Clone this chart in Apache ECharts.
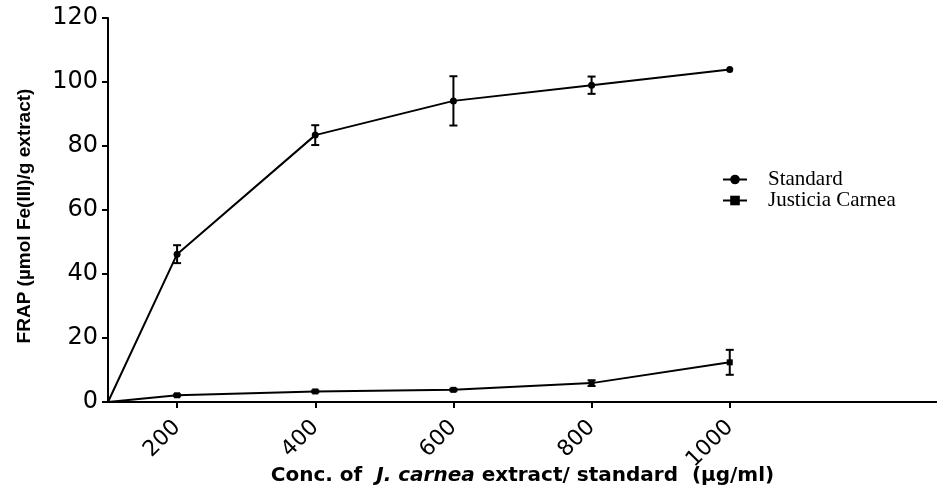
<!DOCTYPE html>
<html>
<head>
<meta charset="utf-8">
<script src="https://cdn.jsdelivr.net/npm/echarts@6/dist/echarts.min.js"></script>
<style>html,body{margin:0;padding:0;background:#fff}#c{width:937px;height:490px}</style>
</head>
<body>
<div id="c"></div>
<script>
const concentrations = [100, 200, 400, 600, 800, 1000];
const xTickLabels = [200, 400, 600, 800, 1000];
const standardMean = [0, 46.2, 83.4, 94.1, 99.0, 103.9];
const standardErr = [0, 2.8, 3.1, 7.7, 2.7, 0];
const justiciaMean = [0, 2.1, 3.3, 3.8, 5.9, 12.4];
const justiciaErr = [0, 0.3, 0.3, 0.3, 0.9, 3.9];
const seriesNames = ['Standard', 'Justicia Carnea'];

const chart = echarts.init(document.getElementById('c'));

function lineData(means) {
  return concentrations.map((x, i) => {
    const d = { value: [x, means[i]] };
    if (i === 0) d.symbolSize = 0;
    return d;
  });
}
function errData(means, errs) {
  const out = [];
  concentrations.forEach((x, i) => {
    if (errs[i] > 0) out.push([x, means[i] - errs[i], means[i] + errs[i]]);
  });
  return out;
}
function renderErr(params, api) {
  const x = api.value(0);
  const lo = api.coord([x, api.value(1)]);
  const hi = api.coord([x, api.value(2)]);
  const w = 4;
  const style = { stroke: '#000', lineWidth: 2 };
  return {
    type: 'group',
    children: [
      { type: 'line', shape: { x1: lo[0], y1: lo[1], x2: hi[0], y2: hi[1] }, style },
      { type: 'line', shape: { x1: lo[0] - w, y1: lo[1], x2: lo[0] + w, y2: lo[1] }, style },
      { type: 'line', shape: { x1: hi[0] - w, y1: hi[1], x2: hi[0] + w, y2: hi[1] }, style }
    ]
  };
}

chart.setOption({
  animation: false,
  backgroundColor: '#fff',
  grid: { left: 108, right: 0, top: 18, bottom: 88, containLabel: false, outerBoundsMode: 'none' },
  legend: {
    orient: 'vertical',
    left: 722,
    top: 169,
    padding: 0,
    itemWidth: 24,
    itemHeight: 12,
    itemGap: 0,
    data: seriesNames,
    textStyle: { fontFamily: 'Liberation Serif, Times New Roman, serif', fontSize: 21, lineHeight: 16, color: '#000', padding: [0, 0, 0, 16] }
  },
  xAxis: {
    type: 'value',
    min: 100,
    max: 1300,
    splitLine: { show: false },
    axisLine: { lineStyle: { color: '#000', width: 2 } },
    axisTick: { show: true, length: 6, lineStyle: { color: '#000', width: 2 }, customValues: xTickLabels },
    axisLabel: {
      customValues: xTickLabels,
      rotate: 45,
      margin: 22,
      formatter: v => String(v),
      fontFamily: 'DejaVu Sans, sans-serif',
      fontSize: 22,
      color: '#000'
    },
    name: '{b|Conc. of  }{i|J. carnea}{b| extract/ standard  (µg/ml)}',
    nameLocation: 'middle',
    nameGap: 64,
    nameMoveOverlap: false,
    nameTextStyle: {
      rich: {
        b: { fontFamily: 'DejaVu Sans, sans-serif', fontWeight: 'bold', fontSize: 20, color: '#000' },
        i: { fontFamily: 'DejaVu Sans, sans-serif', fontWeight: 'bold', fontStyle: 'italic', fontSize: 20, color: '#000' }
      }
    }
  },
  yAxis: {
    type: 'value',
    min: 0,
    max: 120,
    interval: 20,
    splitLine: { show: false },
    axisLine: { show: true, lineStyle: { color: '#000', width: 2 } },
    axisTick: { show: true, length: 6, lineStyle: { color: '#000', width: 2 } },
    axisLabel: { margin: 10, fontFamily: 'DejaVu Sans, sans-serif', fontSize: 24, color: '#000' },
    name: 'FRAP (µmol Fe(III)/g extract)',
    nameLocation: 'middle',
    nameGap: 74,
    nameMoveOverlap: false,
    nameTextStyle: {
      fontFamily: 'Liberation Sans Narrow, Arial Narrow, Liberation Sans, sans-serif',
      fontWeight: 'bold',
      fontSize: 19,
      color: '#000',
      padding: [0, 12, 0, 0]
    }
  },
  series: [
    {
      name: seriesNames[0],
      type: 'line',
      data: lineData(standardMean),
      symbol: 'circle',
      symbolSize: 7,
      lineStyle: { color: '#000', width: 2 },
      itemStyle: { color: '#000' },
      z: 3
    },
    {
      name: seriesNames[1],
      type: 'line',
      data: lineData(justiciaMean),
      symbol: 'rect',
      symbolSize: 6,
      lineStyle: { color: '#000', width: 2 },
      itemStyle: { color: '#000' },
      z: 3
    },
    {
      type: 'custom',
      renderItem: renderErr,
      data: errData(standardMean, standardErr),
      encode: { x: 0, y: [1, 2] },
      z: 4
    },
    {
      type: 'custom',
      renderItem: renderErr,
      data: errData(justiciaMean, justiciaErr),
      encode: { x: 0, y: [1, 2] },
      z: 4
    }
  ]
});
</script>
</body>
</html>
